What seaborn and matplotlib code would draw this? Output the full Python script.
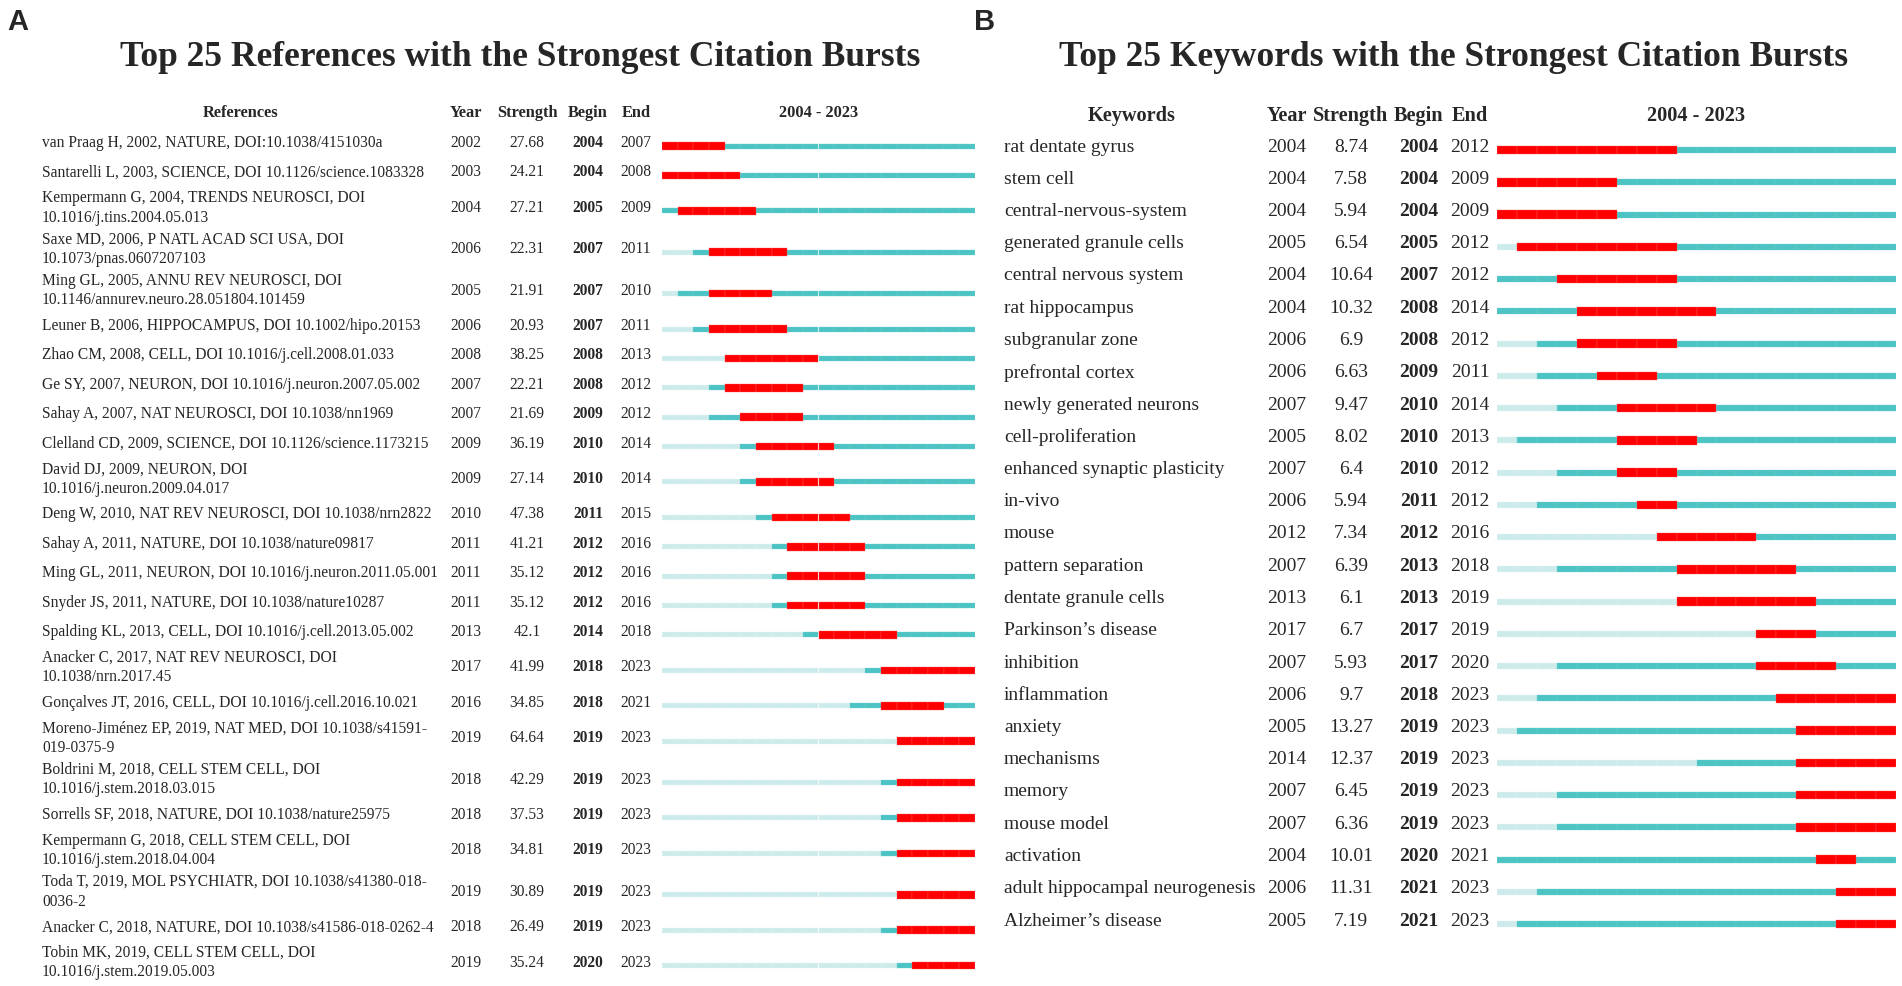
import numpy as np
import pandas as pd
import matplotlib.pyplot as plt
import matplotlib.transforms as mtransforms
import seaborn as sns

# ---- data: panel A (references) ----
ref_labels = [
    "van Praag H, 2002, NATURE, DOI:10.1038/4151030a",
    "Santarelli L, 2003, SCIENCE, DOI 10.1126/science.1083328",
    "Kempermann G, 2004, TRENDS NEUROSCI, DOI\n10.1016/j.tins.2004.05.013",
    "Saxe MD, 2006, P NATL ACAD SCI USA, DOI\n10.1073/pnas.0607207103",
    "Ming GL, 2005, ANNU REV NEUROSCI, DOI\n10.1146/annurev.neuro.28.051804.101459",
    "Leuner B, 2006, HIPPOCAMPUS, DOI 10.1002/hipo.20153",
    "Zhao CM, 2008, CELL, DOI 10.1016/j.cell.2008.01.033",
    "Ge SY, 2007, NEURON, DOI 10.1016/j.neuron.2007.05.002",
    "Sahay A, 2007, NAT NEUROSCI, DOI 10.1038/nn1969",
    "Clelland CD, 2009, SCIENCE, DOI 10.1126/science.1173215",
    "David DJ, 2009, NEURON, DOI\n10.1016/j.neuron.2009.04.017",
    "Deng W, 2010, NAT REV NEUROSCI, DOI 10.1038/nrn2822",
    "Sahay A, 2011, NATURE, DOI 10.1038/nature09817",
    "Ming GL, 2011, NEURON, DOI 10.1016/j.neuron.2011.05.001",
    "Snyder JS, 2011, NATURE, DOI 10.1038/nature10287",
    "Spalding KL, 2013, CELL, DOI 10.1016/j.cell.2013.05.002",
    "Anacker C, 2017, NAT REV NEUROSCI, DOI\n10.1038/nrn.2017.45",
    "Gonçalves JT, 2016, CELL, DOI 10.1016/j.cell.2016.10.021",
    "Moreno-Jiménez EP, 2019, NAT MED, DOI 10.1038/s41591-\n019-0375-9",
    "Boldrini M, 2018, CELL STEM CELL, DOI\n10.1016/j.stem.2018.03.015",
    "Sorrells SF, 2018, NATURE, DOI 10.1038/nature25975",
    "Kempermann G, 2018, CELL STEM CELL, DOI\n10.1016/j.stem.2018.04.004",
    "Toda T, 2019, MOL PSYCHIATR, DOI 10.1038/s41380-018-\n0036-2",
    "Anacker C, 2018, NATURE, DOI 10.1038/s41586-018-0262-4",
    "Tobin MK, 2019, CELL STEM CELL, DOI\n10.1016/j.stem.2019.05.003",
]
ref_year = [2002, 2003, 2004, 2006, 2005, 2006, 2008, 2007, 2007, 2009, 2009, 2010, 2011,
            2011, 2011, 2013, 2017, 2016, 2019, 2018, 2018, 2018, 2019, 2018, 2019]
ref_strength = [27.68, 24.21, 27.21, 22.31, 21.91, 20.93, 38.25, 22.21, 21.69, 36.19, 27.14,
                47.38, 41.21, 35.12, 35.12, 42.1, 41.99, 34.85, 64.64, 42.29, 37.53, 34.81,
                30.89, 26.49, 35.24]
ref_begin = [2004, 2004, 2005, 2007, 2007, 2007, 2008, 2008, 2009, 2010, 2010, 2011, 2012,
             2012, 2012, 2014, 2018, 2018, 2019, 2019, 2019, 2019, 2019, 2019, 2020]
ref_end = [2007, 2008, 2009, 2011, 2010, 2011, 2013, 2012, 2012, 2014, 2014, 2015, 2016,
           2016, 2016, 2018, 2023, 2021, 2023, 2023, 2023, 2023, 2023, 2023, 2023]

# ---- data: panel B (keywords) ----
kw_labels = [
    "rat dentate gyrus", "stem cell", "central-nervous-system", "generated granule cells",
    "central nervous system", "rat hippocampus", "subgranular zone", "prefrontal cortex",
    "newly generated neurons", "cell-proliferation", "enhanced synaptic plasticity", "in-vivo",
    "mouse", "pattern separation", "dentate granule cells", "Parkinson’s disease",
    "inhibition", "inflammation", "anxiety", "mechanisms", "memory", "mouse model",
    "activation", "adult hippocampal neurogenesis", "Alzheimer’s disease",
]
kw_year = [2004, 2004, 2004, 2005, 2004, 2004, 2006, 2006, 2007, 2005, 2007, 2006, 2012,
           2007, 2013, 2017, 2007, 2006, 2005, 2014, 2007, 2007, 2004, 2006, 2005]
kw_strength = [8.74, 7.58, 5.94, 6.54, 10.64, 10.32, 6.9, 6.63, 9.47, 8.02, 6.4, 5.94, 7.34,
               6.39, 6.1, 6.7, 5.93, 9.7, 13.27, 12.37, 6.45, 6.36, 10.01, 11.31, 7.19]
kw_begin = [2004, 2004, 2004, 2005, 2007, 2008, 2008, 2009, 2010, 2010, 2010, 2011, 2012,
            2013, 2013, 2017, 2017, 2018, 2019, 2019, 2019, 2019, 2020, 2021, 2021]
kw_end = [2012, 2009, 2009, 2012, 2012, 2014, 2012, 2011, 2014, 2013, 2012, 2012, 2016,
          2018, 2019, 2019, 2020, 2023, 2023, 2023, 2023, 2023, 2021, 2023, 2023]

FIRST, LAST = 2004, 2023
W, H = 1902, 986
RED, TEAL, LIGHT = '#ff0000', '#4cc4c4', '#cdebeb'

sns.set_theme(style='white')
plt.rcParams['font.family'] = ['Liberation Serif', 'DejaVu Serif']

fig = plt.figure(figsize=(W / 100, H / 100), dpi=100, facecolor='white')


def cell_table(year, begin, end):
    rows = []
    for i, (y, b, e) in enumerate(zip(year, begin, end)):
        for yr in range(FIRST, LAST + 1):
            if b <= yr <= e:
                state = 'burst'
            elif yr < y:
                state = 'before'
            else:
                state = 'after'
            rows.append((i, yr, state))
    return pd.DataFrame(rows, columns=['row', 'year', 'state'])


def panel(bar_x0, bar_x1, ypos, head_y, name, labels, year, strength, begin, end,
          cols, fs, thin, thick):
    ax = fig.add_axes([bar_x0 / W, 0, (bar_x1 - bar_x0) / W, 1])
    ax.set_xlim(FIRST, LAST + 1)
    ax.set_ylim(H, 0)
    ax.axis('off')

    df = cell_table(year, begin, end)
    df['y'] = ypos[df['row'].values] + 3
    # faint separators between the yearly cells
    for state, color, edge, h in [('before', LIGHT, '#e2f4f4', thin),
                                  ('after', TEAL, '#74d2d2', thin),
                                  ('burst', RED, '#ff5c5c', thick)]:
        d = df[df['state'] == state]
        ax.barh(d['y'], 1, left=d['year'], height=h, color=color,
                edgecolor=edge, linewidth=0.25, align='center')

    tr = mtransforms.blended_transform_factory(fig.transFigure, ax.transData)
    lx, hx, yx, sx, bx, ex = [c / W for c in cols]
    # header
    ax.text(hx, head_y, name, transform=tr, ha='center', va='center', fontsize=fs + 0.6, weight='bold')
    for x, t in [(yx, 'Year'), (sx, 'Strength'), (bx, 'Begin'), (ex, 'End')]:
        ax.text(x, head_y, t, transform=tr, ha='center', va='center', fontsize=fs + 0.6, weight='bold')
    ax.text(0.5, head_y, f'{FIRST} - {LAST}',
            transform=mtransforms.blended_transform_factory(ax.transAxes, ax.transData),
            ha='center', va='center', fontsize=fs + 0.6, weight='bold')
    # rows
    for i in range(len(labels)):
        y = ypos[i]
        ax.text(lx, y, labels[i], transform=tr, ha='left', va='center', fontsize=fs, linespacing=1.3)
        ax.text(yx, y, str(year[i]), transform=tr, ha='center', va='center', fontsize=fs)
        ax.text(sx, y, f'{strength[i]:g}', transform=tr, ha='center', va='center', fontsize=fs)
        ax.text(bx, y, str(begin[i]), transform=tr, ha='center', va='center', fontsize=fs, weight='bold')
        ax.text(ex, y, str(end[i]), transform=tr, ha='center', va='center', fontsize=fs)
    return ax


# row positions for panel A depend on how many lines each label has
heights = np.array([41.4 if '\n' in s else 29.4 for s in ref_labels])
ypos_a = 143 + np.concatenate([[0], np.cumsum((heights[:-1] + heights[1:]) / 2)])
ypos_b = 147 + 32.25 * np.arange(len(kw_labels))

panel(662, 975, ypos_a, 113, 'References', ref_labels, ref_year, ref_strength, ref_begin, ref_end,
      cols=[42, 241, 466, 527, 588, 636], fs=11.2, thin=5, thick=7.5)
panel(1497, 1896, ypos_b, 116, 'Keywords', kw_labels, kw_year, kw_strength, kw_begin, kw_end,
      cols=[1004, 1132, 1287, 1351, 1419, 1470], fs=14, thin=6, thick=8.5)

fig.text(520 / W, 1 - 57 / H, 'Top 25 References with the Strongest Citation Bursts',
         ha='center', va='center', fontsize=25.5, weight='bold')
fig.text(1454 / W, 1 - 57 / H, 'Top 25 Keywords with the Strongest Citation Bursts',
         ha='center', va='center', fontsize=25.5, weight='bold')
fig.text(18 / W, 1 - 22 / H, 'A', ha='center', va='center', fontsize=21, weight='bold',
         family=['Liberation Sans', 'DejaVu Sans'])
fig.text(985 / W, 1 - 22 / H, 'B', ha='center', va='center', fontsize=21, weight='bold',
         family=['Liberation Sans', 'DejaVu Sans'])

fig.savefig('out.png', dpi=100, facecolor='white')
